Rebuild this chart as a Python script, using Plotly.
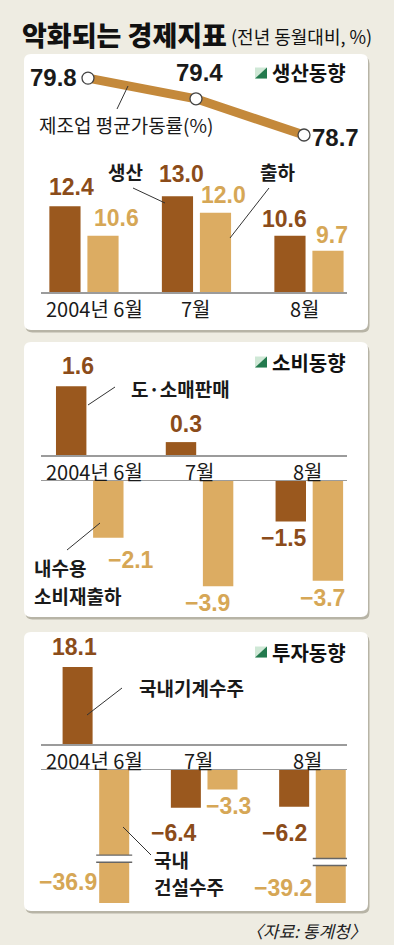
import plotly.graph_objects as go

W, H = 394, 945

# ---------------- data ----------------
months = ["2004년 6월", "7월", "8월"]
month_idx = [0, 1, 2]

# 생산동향
utilization = [79.8, 79.4, 78.7]      # 제조업 평균가동률(%)
production = [12.4, 13.0, 10.6]       # 생산
shipment = [10.6, 12.0, 9.7]          # 출하

# 소비동향
retail = [1.6, 0.3, -1.5]             # 도·소매판매
consumer_ship = [-2.1, -3.9, -3.7]    # 내수용 소비재출하

# 투자동향
machinery = [18.1, -6.4, -6.2]        # 국내기계수주
construction = [-36.9, -3.3, -39.2]   # 국내건설수주

# ---------------- style ----------------
BG = "#eeece2"
DARK = "#9a581e"
LIGHT = "#dcac62"
LINE_C = "#c4893b"
DARK_TXT = "#8b4c1a"
LIGHT_TXT = "#d6a756"
KR = "Noto Sans CJK KR, Noto Sans, sans-serif"
NUM = "Liberation Sans, Arial, sans-serif"
AXIS_C = "#9b9b9b"
NUM_SIZE = 23


def X(x):
    return x / W


def Y(y):
    return 1 - y / H


XDOM = [X(41), X(347)]

# axis ranges (x ranges per panel, y ranges per sub-plot)
XR_LINE = [-0.435, 2.398]
XR_P1 = [-0.382, 2.338]
XR_P2 = [-0.444, 2.343]
XR_P3 = [-0.507, 2.319]
YR_LINE = [78.41, 80.15]
YR_P1 = [7.2, 14.59]
YR_P2U = [0, 1.86]
YR_P2L = [-4.41, 0]
YR_P3U = [0, 22.1]
YR_P3L = [-22.5, 0]


def xa(rng, anchor, side="bottom", showline=True):
    return dict(domain=XDOM, range=rng, anchor=anchor, side=side, showline=showline,
                linecolor=AXIS_C, linewidth=1.5, showgrid=False, zeroline=False,
                showticklabels=False, ticks="", fixedrange=True)


def ya(dom, rng, anchor):
    return dict(domain=dom, range=rng, anchor=anchor, visible=False, fixedrange=True,
                showgrid=False, zeroline=False)


fig = go.Figure()

# line: 제조업 평균가동률
fig.add_trace(go.Scatter(
    x=month_idx, y=utilization, mode="lines+markers", xaxis="x", yaxis="y",
    line=dict(color=LINE_C, width=9),
    marker=dict(size=12, color="white", line=dict(color="#444", width=1.3)),
    showlegend=False, hoverinfo="skip"))


def bar(vals, color, xax, yax):
    fig.add_trace(go.Bar(x=month_idx, y=vals, xaxis=xax, yaxis=yax,
                         marker=dict(color=color, line=dict(width=0)),
                         showlegend=False, hoverinfo="skip"))


bar(production, DARK, "x2", "y2")
bar(shipment, LIGHT, "x2", "y2")
bar(retail, DARK, "x3", "y3")
bar(consumer_ship, LIGHT, "x3", "y3")
bar(retail, DARK, "x4", "y4")
bar(consumer_ship, LIGHT, "x4", "y4")
bar(machinery, DARK, "x5", "y5")
bar(construction, LIGHT, "x5", "y5")
bar(machinery, DARK, "x6", "y6")
bar(construction, LIGHT, "x6", "y6")

BARGAP, BARGROUPGAP = 0.324, 0.18
SLOT = (1 - BARGAP) / 2
OFF = [-SLOT / 2, SLOT / 2]
HALF = SLOT * (1 - BARGROUPGAP) / 2

annotations = []


def ann(text, x, y, xref="paper", yref="paper", size=19, color="#1a1a1a", family=KR,
        xanchor="center", yanchor="middle", xshift=0, yshift=0, weight="normal", style="normal"):
    annotations.append(dict(text=text, x=x, y=y, xref=xref, yref=yref, showarrow=False,
                            xanchor=xanchor, yanchor=yanchor, xshift=xshift, yshift=yshift,
                            borderpad=0,
                            font=dict(size=size, color=color, family=family, weight=weight,
                                      style=style)))


def fmt(v):
    return f"{v:.1f}".replace("-", "−")


def vlabels(vals, k, xax, yax, yr, color, xshifts, yshifts, keep, anchors=None):
    for i, v in enumerate(vals):
        if not keep(v):
            continue
        xa_, ya_ = "center", ("bottom" if v > 0 else "top")
        y = v
        if v < yr[0]:
            y = yr[0]
            ya_ = "bottom"
        if anchors and anchors[i]:
            xa_ = anchors[i]
        ann(fmt(v), i + OFF[k], y, xref=xax, yref=yax, size=NUM_SIZE, color=color, family=NUM,
            xanchor=xa_, yanchor=ya_, xshift=xshifts[i], yshift=yshifts[i], weight="bold")


pos = lambda v: v > 0
neg = lambda v: v < 0
allv = lambda v: True

# panel 1 value labels
vlabels(production, 0, "x2", "y2", YR_P1, DARK_TXT, [7, 4, -5], [5, 8, 3], allv)
vlabels(shipment, 1, "x2", "y2", YR_P1, LIGHT_TXT, [14, 8, 4], [4, 4, 2], allv)
# line labels
ann(fmt(utilization[0]), 0, utilization[0], "x", "y", size=24, family=NUM, weight="bold",
    xanchor="right", xshift=-10, yshift=1)
ann(fmt(utilization[1]), 1, utilization[1], "x", "y", size=24, family=NUM, weight="bold",
    xanchor="center", yanchor="bottom", xshift=3, yshift=12)
ann(fmt(utilization[2]), 2, utilization[2], "x", "y", size=24, family=NUM, weight="bold",
    xanchor="left", xshift=7, yshift=-2)

# panel 2 value labels
vlabels(retail, 0, "x3", "y3", YR_P2U, DARK_TXT, [7, 5, 0], [6, 4, 0], pos)
vlabels(retail, 0, "x4", "y4", YR_P2L, DARK_TXT, [0, 0, -7], [0, 0, -3], neg)
vlabels(consumer_ship, 1, "x4", "y4", YR_P2L, LIGHT_TXT, [23, -11, -5], [-8, -3, -3], neg)

# panel 3 value labels
vlabels(machinery, 0, "x5", "y5", YR_P3U, DARK_TXT, [-3, 0, 0], [6, 0, 0], pos)
vlabels(machinery, 0, "x6", "y6", YR_P3L, DARK_TXT, [0, -12, -10], [0, -11, -12], neg)
vlabels(construction, 1, "x6", "y6", YR_P3L, LIGHT_TXT, [-16, 6, -18], [7, -2, 1], neg,
        anchors=["right", None, "right"])

# month labels
for xax, yax, yr, shifts in [("x2", "y2", YR_P1, [11, 0, -4]),
                             ("x3", "y3", YR_P2U, [5, 0, -1]),
                             ("x5", "y5", YR_P3U, [-1, -5, -4])]:
    for i, m in enumerate(months):
        ann(m, i, yr[0], xax, yax, size=20, color="#1a1a1a", yanchor="top",
            xshift=shifts[i], yshift=-1)

# title and source
ann("악화되는 경제지표", X(21), Y(35), size=27, color="#111", xanchor="left", weight=900)
ann("(전년 동월대비, %)", X(230), Y(36), size=18, color="#111", xanchor="left")
ann("〈자료: 통계청〉", X(368), Y(930), size=17, color="#222", xanchor="right", style="italic")

# panel headings
for name, yc in [("생산동향", 73), ("소비동향", 362), ("투자동향", 652)]:
    ann(name, X(271), Y(yc), size=20, color="#111", xanchor="left", weight="bold")

# series name labels
ann("제조업 평균가동률(%)", X(126), Y(124))
ann("생산", X(125), Y(171), weight="bold")
ann("출하", X(277), Y(171), weight="bold")
ann("도·소매판매", X(180), Y(388), weight="bold")
ann("내수용", X(33), Y(567), xanchor="left", weight="bold")
ann("소비재출하", X(33), Y(595), xanchor="left", weight="bold")
ann("국내기계수주", X(191), Y(687), weight="bold")
ann("국내", X(153), Y(859), xanchor="left", weight="bold")
ann("건설수주", X(153), Y(886), xanchor="left", weight="bold")

# ---------------- shapes ----------------
shapes = []


def rrect(x0, y0, x1, y1, r):
    return (f"M {X(x0 + r)},{Y(y0)} L {X(x1 - r)},{Y(y0)} Q {X(x1)},{Y(y0)} {X(x1)},{Y(y0 + r)} "
            f"L {X(x1)},{Y(y1 - r)} Q {X(x1)},{Y(y1)} {X(x1 - r)},{Y(y1)} "
            f"L {X(x0 + r)},{Y(y1)} Q {X(x0)},{Y(y1)} {X(x0)},{Y(y1 - r)} "
            f"L {X(x0)},{Y(y0 + r)} Q {X(x0)},{Y(y0)} {X(x0 + r)},{Y(y0)} Z")


for (y0, y1) in [(54, 330), (342, 617), (632, 911)]:
    shapes.append(dict(type="path", path=rrect(25.5, y0 + 2.5, 369.5, y1 + 2.5, 7), xref="paper",
                       yref="paper", fillcolor="#b7b4a6", line=dict(width=0), layer="below"))
    shapes.append(dict(type="path", path=rrect(24, y0, 368, y1, 7), xref="paper", yref="paper",
                       fillcolor="white", line=dict(width=0), layer="below"))

# heading icons
for yc in [73, 362, 652]:
    shapes.append(dict(type="rect", x0=X(255), x1=X(267), y0=Y(yc + 5.5), y1=Y(yc - 5.5),
                       xref="paper", yref="paper", fillcolor="#cfe8d6", line=dict(width=0)))
    shapes.append(dict(type="path", xref="paper", yref="paper",
                       path=f"M {X(267)},{Y(yc - 5.5)} L {X(267)},{Y(yc + 5.5)} L {X(255)},{Y(yc + 5.5)} Z",
                       fillcolor="#237a4e", line=dict(width=0)))

# leader lines
for (x0, y0, x1, y1) in [(128, 86, 117, 109), (133, 188, 165, 203), (269, 188, 230, 238),
                         (115, 387, 88, 405), (67, 550, 100, 523), (122, 688, 87, 715),
                         (151, 855, 123, 827)]:
    shapes.append(dict(type="line", x0=X(x0), y0=Y(y0), x1=X(x1), y1=Y(y1), xref="paper",
                       yref="paper", line=dict(color="#333", width=1)))

# axis break marks for bars clipped by the lower axis range
for i, v in enumerate(construction):
    if v < YR_P3L[0]:
        cx = i + OFF[1]
        ytop = YR_P3L[0] * (0.64 + 0.025 * (i / 2))
        ybot = ytop - 1.2
        shapes.append(dict(type="rect", xref="x6", yref="y6", x0=cx - HALF * 1.2,
                           x1=cx + HALF * 1.2, y0=ybot, y1=ytop, fillcolor="white",
                           line=dict(width=0)))
        for yy in (ytop, ybot):
            shapes.append(dict(type="line", xref="x6", yref="y6", x0=cx - HALF * 1.2,
                               x1=cx + HALF * 1.2, y0=yy, y1=yy,
                               line=dict(color="#666", width=1.4)))

fig.update_layout(
    width=W, height=H, margin=dict(l=0, r=0, t=0, b=0),
    paper_bgcolor=BG, plot_bgcolor="rgba(0,0,0,0)",
    barmode="group", bargap=BARGAP, bargroupgap=BARGROUPGAP,
    showlegend=False,
    xaxis=xa(XR_LINE, "y", showline=False),
    yaxis=ya([Y(150), Y(60)], YR_LINE, "x"),
    xaxis2=xa(XR_P1, "y2"),
    yaxis2=ya([Y(292), Y(170)], YR_P1, "x2"),
    xaxis3=xa(XR_P2, "y3"),
    yaxis3=ya([Y(455), Y(375)], YR_P2U, "x3"),
    xaxis4=xa(XR_P2, "y4", side="top"),
    yaxis4=ya([Y(600), Y(481)], YR_P2L, "x4"),
    xaxis5=xa(XR_P3, "y5"),
    yaxis5=ya([Y(744), Y(650)], YR_P3U, "x5"),
    xaxis6=xa(XR_P3, "y6", side="top"),
    yaxis6=ya([Y(903), Y(770)], YR_P3L, "x6"),
    annotations=annotations,
    shapes=shapes,
)

fig.write_html("out.html", config={"displayModeBar": False, "staticPlot": True},
               post_script="document.body.style.margin='0';"
                           "document.body.style.background='" + BG + "';")
